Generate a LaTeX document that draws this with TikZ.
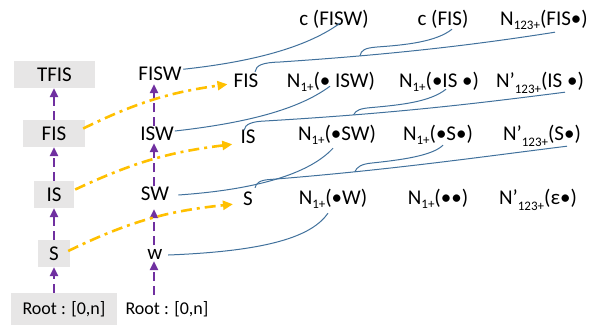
\documentclass[tikz,border=0pt]{standalone}
\usepackage{fontspec}
\setmainfont{Carlito}
\usetikzlibrary{arrows.meta,calc}
\definecolor{ppurple}{RGB}{112,48,160}
\definecolor{pyellow}{RGB}{255,192,0}
\definecolor{pblue}{RGB}{65,113,156}
\definecolor{pgrey}{RGB}{231,230,230}
\newcommand\lsub[2]{\raisebox{-#1pt}{\fontsize{13}{13}\selectfont #2}}
\begin{document}
\begin{tikzpicture}[x=1pt,y=-1pt,
  txt/.style={inner sep=0pt, text height=13.5pt, text depth=0pt, font=\fontsize{21}{24}\selectfont},
  rtxt/.style={inner sep=0pt, text height=11.6pt, text depth=0pt, font=\fontsize{18}{21}\selectfont},
  gbox/.style={fill=pgrey, minimum height=27pt},
  parrow/.style={draw=ppurple, line width=2.2pt, dash pattern=on 9pt off 5pt, -{Triangle[length=9pt,width=8pt]}},
  yarrow/.style={draw=pyellow, line width=2.6pt, dash pattern=on 11pt off 5pt on 3pt off 5pt, -{Triangle[length=10pt,width=9pt]}},
  bline/.style={draw=pblue, line width=1pt},
]
\useasboundingbox (0,0) rectangle (599,327);
% left column
\node[txt,gbox,minimum width=81pt] (tfis) at (54.5,74.5) {TFIS};
\node[txt,gbox,minimum width=62pt] (fisL) at (54,133.5) {FIS};
\node[txt,gbox,minimum width=40pt] (isL) at (54,194.5) {IS};
\node[txt,gbox,minimum width=32pt] (sL) at (54,253.5) {S};
\node[rtxt,fill=pgrey,minimum width=106pt,minimum height=32pt] (rootL) at (64,309) {Root : [0,n]};
% second column
\coordinate (c2) at (154,0);
\node[txt] (fisw) at (160,73.25) {FISW};
\node[txt] (isw) at (157,133.25) {ISW};
\node[txt] (sw) at (155,193.25) {SW};
\node[txt] (w) at (155,252.25) {w};
\node[rtxt] (rootR) at (167,308.2) {Root : [0,n]};
% third column
\node[txt] (fis3) at (246,80.25) {FIS};
\node[txt] (is3) at (248,136.25) {IS};
\node[txt] (s3) at (248,198.25) {S};
% right rows
\node[txt] (cfisw) at (334,18.75) {c (FISW)};
\node[txt] (cfis) at (443,18.75) {c (FIS)};
\node[txt] (nfis) at (544,18.75) {N\lsub{4}{123+}(FIS•)};
\node[txt] (nisw) at (331,80.25) {N\lsub{4}{1+}(• ISW)};
\node[txt] (nis) at (439,80.25) {N\lsub{4}{1+}(•IS •)};
\node[txt] (npis) at (540,80.25) {N’\lsub{6}{123+}(IS •)};
\node[txt] (nsw) at (337,133.75) {N\lsub{4}{1+}(•SW)};
\node[txt] (ns) at (438,133.75) {N\lsub{4}{1+}(•S•)};
\node[txt] (nps) at (542,133.75) {N’\lsub{6}{123+}(S•)};
\node[txt] (nw) at (333,197.25) {N\lsub{4}{1+}(•W)};
\node[txt] (nb) at (438,197.25) {N\lsub{4}{1+}(••)};
\node[txt] (npe) at (538,197.25) {N’\lsub{6}{123+}(ε•)};
% purple arrows, left column
\draw[parrow] (rootL.north -| sL.south) -- (sL.south);
\draw[parrow] (sL.north) -- (isL.south);
\draw[parrow] (isL.north) -- (fisL.south);
\draw[parrow] (fisL.north) -- (tfis.south -| fisL.north);
% purple arrows, second column
\draw[parrow] ($(rootR.north -| c2)+(0,-7)$) -- ($(w.south -| c2)+(0,2)$);
\draw[parrow] (w.north -| c2) -- ($(sw.south -| c2)+(0,9)$);
\draw[parrow] (sw.north -| c2) -- ($(isw.south -| c2)+(0,3)$);
\draw[parrow] (isw.north -| c2) -- ($(fisw.south -| c2)+(0,4)$);
% yellow arrows
\draw[yarrow] ($(fisL.east)+(-2,-5)$) to[bend left=9] ($(fis3.west)+(-6,4)$);
\draw[yarrow] ($(isL.east)+(1,-5)$) to[bend left=9] ($(is3.west)+(-8,8)$);
\draw[yarrow] ($(sL.east)+(-2,-2.5)$) to[bend left=10] ($(s3.west)+(-10,6)$);
% blue lines row 1
\draw[bline] ($(fisw.east)+(1.5,-4)$) .. controls (260,61) and (310,45) .. ($(cfisw.south)+(6,-2.5)$);
\draw[bline] ($(fis3.north)+(9,-1.5)$) .. controls (256,65) and (263,62.5) .. (280,62)
  .. controls (400,54) and (480,44) .. coordinate[pos=0.24] (j1) ($(nfis.south)+(11,6.5)$);
\draw[bline] (j1) .. controls (361,50) and (365,48) .. (377,47) .. controls (405,45) and (436,42) .. ($(cfis.south)+(9,3.5)$);
% row 2
\draw[bline] ($(isw.east)+(1,-2.25)$) .. controls (255,122) and (302,107) .. ($(nisw.south)+(-1,-1)$);
\draw[bline] ($(is3.north)+(-4,1)$) .. controls (245,124) and (252,121.5) .. (265,121)
  .. controls (400,113) and (480,103) .. coordinate[pos=0.24] (j2) ($(npis.south)+(25,5)$);
\draw[bline] (j2) .. controls (356,110) and (360,108.5) .. (372,107.5) .. controls (400,105) and (430,102) .. ($(nis.south)+(7,2)$);
% row 3
\draw[bline] ($(sw.east)+(9,1.75)$) .. controls (265,189) and (312,171) .. ($(nsw.south)+(-4,7.5)$);
\draw[bline] ($(s3.north)+(7,-3.5)$) .. controls (256,183) and (260,180) .. (270,179.5)
  .. controls (390,170) and (480,157) .. coordinate[pos=0.25] (j3) ($(nps.south)+(25,5.5)$);
\draw[bline] (j3) .. controls (357,167) and (361,164) .. (372,163) .. controls (400,160) and (432,156) .. ($(ns.south)+(5,4.5)$);
% row 4
\draw[bline] ($(w.east)+(5.5,2.75)$) .. controls (270,251) and (312,236) .. ($(nw.south)+(-5,9)$);
\end{tikzpicture}
\end{document}
